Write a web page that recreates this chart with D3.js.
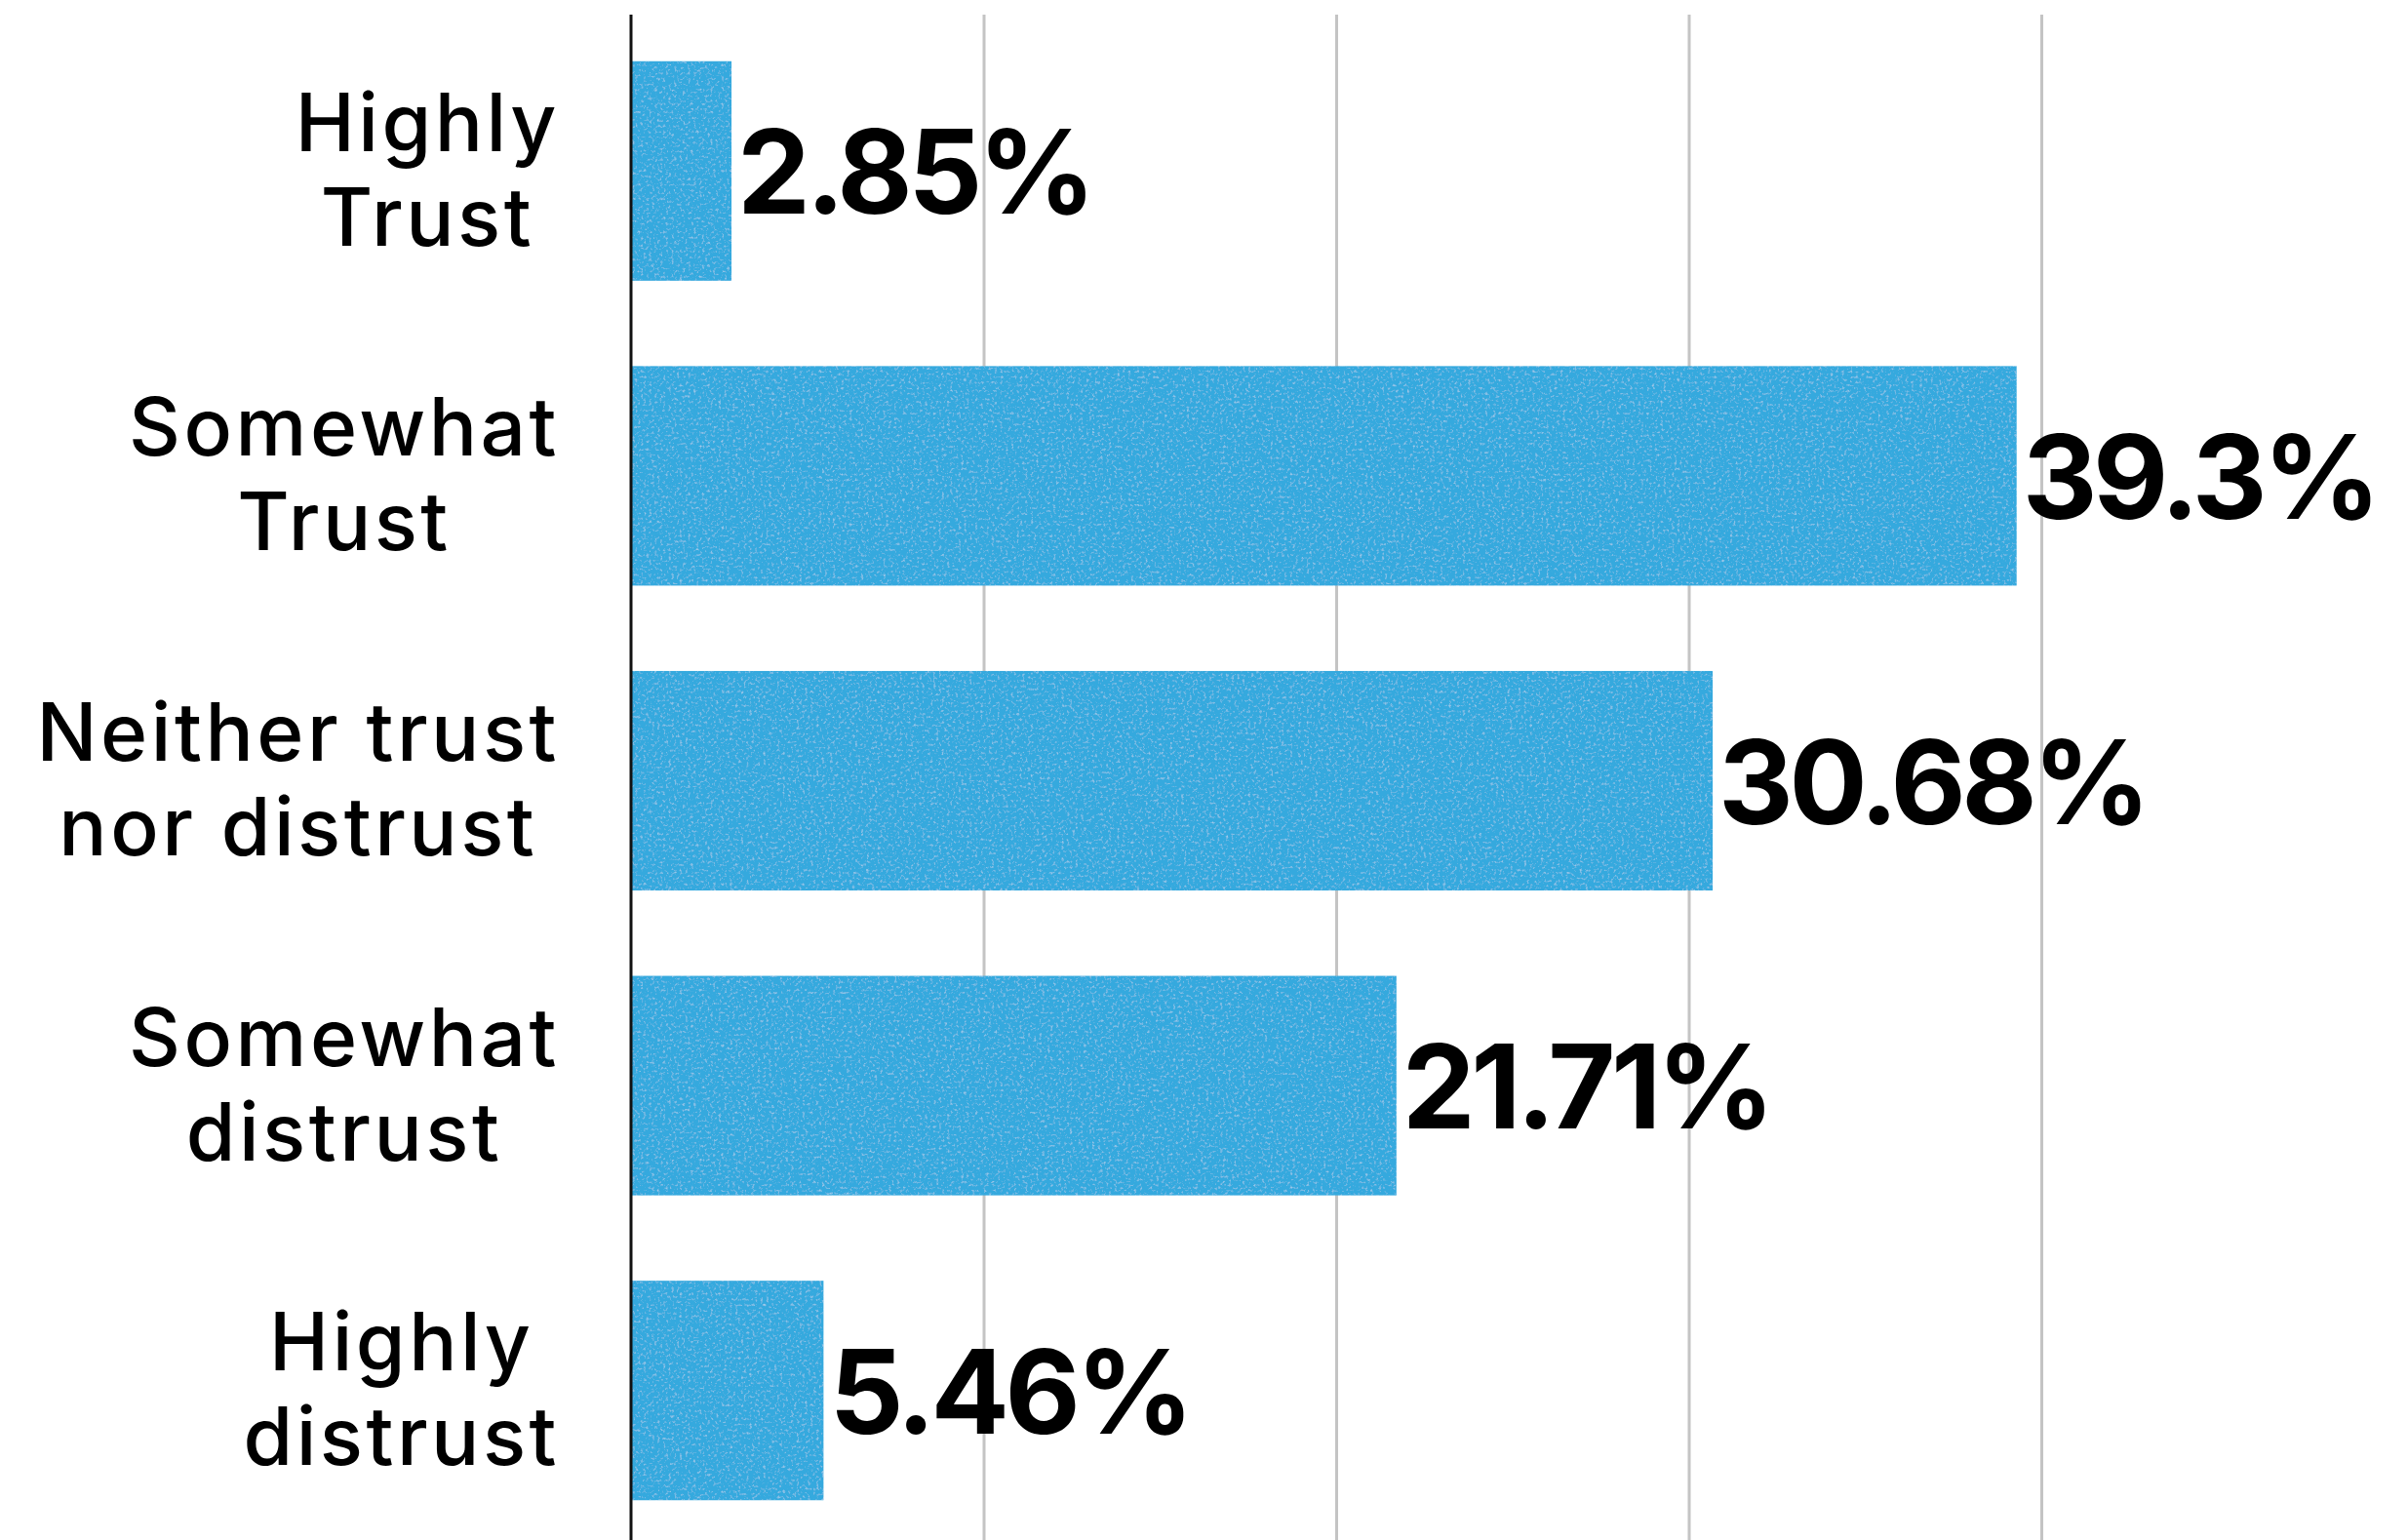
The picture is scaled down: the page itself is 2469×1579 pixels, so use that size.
<!DOCTYPE html>
<html>
<head>
<meta charset="utf-8">
<script src="https://cdn.jsdelivr.net/npm/d3@7"></script>
<style>
  html, body { margin: 0; padding: 0; background: #ffffff; }
  svg { display: block; }
</style>
</head>
<body>
<svg id="chart" width="2469" height="1579"></svg>
<script>
// Survey answers, top to bottom, with their share in percent
const categories = [
  ["Highly", "Trust"],
  ["Somewhat", "Trust"],
  ["Neither trust", "nor distrust"],
  ["Somewhat", "distrust"],
  ["Highly", "distrust"]
];
const values = [2.85, 39.3, 30.68, 21.71, 5.46];
const gridTicks = [10, 20, 30, 40];

const W = 2469, H = 1579;
const svg = d3.select("#chart");

const keys = categories.map(c => c.join(" "));

const x = d3.scaleLinear().domain([0, 50]).range([647, 2454.5]);
const y = d3.scaleBand().domain(keys).range([19, 1582])
  .paddingInner(0.28).paddingOuter(0.14);

// grain texture for the bars: soft light blotches plus a faint speckle
const defs = svg.append("defs");
const f = defs.append("filter").attr("id", "grain")
  .attr("x", 0).attr("y", 0).attr("width", 1).attr("height", 1);
f.append("feTurbulence").attr("type", "fractalNoise")
  .attr("baseFrequency", 0.35).attr("numOctaves", 3).attr("seed", 7).attr("result", "noise");
f.append("feColorMatrix").attr("in", "noise").attr("type", "matrix")
  .attr("values", "0 0 0 0 1  0 0 0 0 1  0 0 0 0 1  0 0 0 0.9 -0.5")
  .attr("result", "speck");
f.append("feComposite").attr("in", "speck").attr("in2", "SourceGraphic")
  .attr("operator", "in").attr("result", "speckIn");
f.append("feMerge").call(m => {
  m.append("feMergeNode").attr("in", "SourceGraphic");
  m.append("feMergeNode").attr("in", "speckIn");
});

// vertical gridlines
const grid = svg.append("g")
  .attr("transform", `translate(0,${H})`)
  .call(d3.axisBottom(x).tickValues(gridTicks).tickSize(H - 15).tickFormat(""));
grid.select(".domain").remove();
grid.selectAll(".tick line")
  .attr("y2", -(H - 15))
  .attr("stroke", "#c4c4c4")
  .attr("stroke-width", 3);

// bars
svg.append("g").selectAll("rect")
  .data(values)
  .join("rect")
  .attr("x", x(0))
  .attr("y", (d, i) => y(keys[i]))
  .attr("width", d => x(d) - x(0))
  .attr("height", y.bandwidth())
  .attr("fill", "#36a9de")
  .attr("filter", "url(#grain)");

// baseline axis
svg.append("line")
  .attr("x1", x(0)).attr("x2", x(0))
  .attr("y1", 15).attr("y2", H)
  .attr("stroke", "#111").attr("stroke-width", 3);

// value labels
svg.append("g").selectAll("text")
  .data(values)
  .join("text")
  .attr("x", d => x(d) + 6)
  .attr("y", (d, i) => y(keys[i]) + y.bandwidth() / 2 + 44)
  .attr("font-family", "Inter, 'Open Sans', sans-serif")
  .attr("font-weight", 700)
  .attr("font-size", 119)
  .attr("letter-spacing", -4.5)
  .attr("fill", "#000")
  .text(d => `${d}%`);

// category labels: each block right-aligned, its lines centred within it
const labelRight = 574;
const lineGap = 97;
const catG = svg.append("g");
categories.forEach((lines, i) => {
  const cy = y(keys[i]) + y.bandwidth() / 2;
  const t = catG.append("text")
    .attr("font-family", "Inter, 'Open Sans', sans-serif")
    .attr("font-weight", 500)
    .attr("font-size", 82)
    .attr("letter-spacing", 3.5)
    .attr("fill", "#000")
    .attr("text-anchor", "middle");
  const spans = lines.map((s, j) => t.append("tspan")
    .attr("y", cy + 28 + (j - (lines.length - 1) / 2) * lineGap)
    .text(s));
  const maxW = d3.max(spans, s => s.node().getComputedTextLength());
  spans.forEach(s => s.attr("x", labelRight - maxW / 2));
});
</script>
</body>
</html>
